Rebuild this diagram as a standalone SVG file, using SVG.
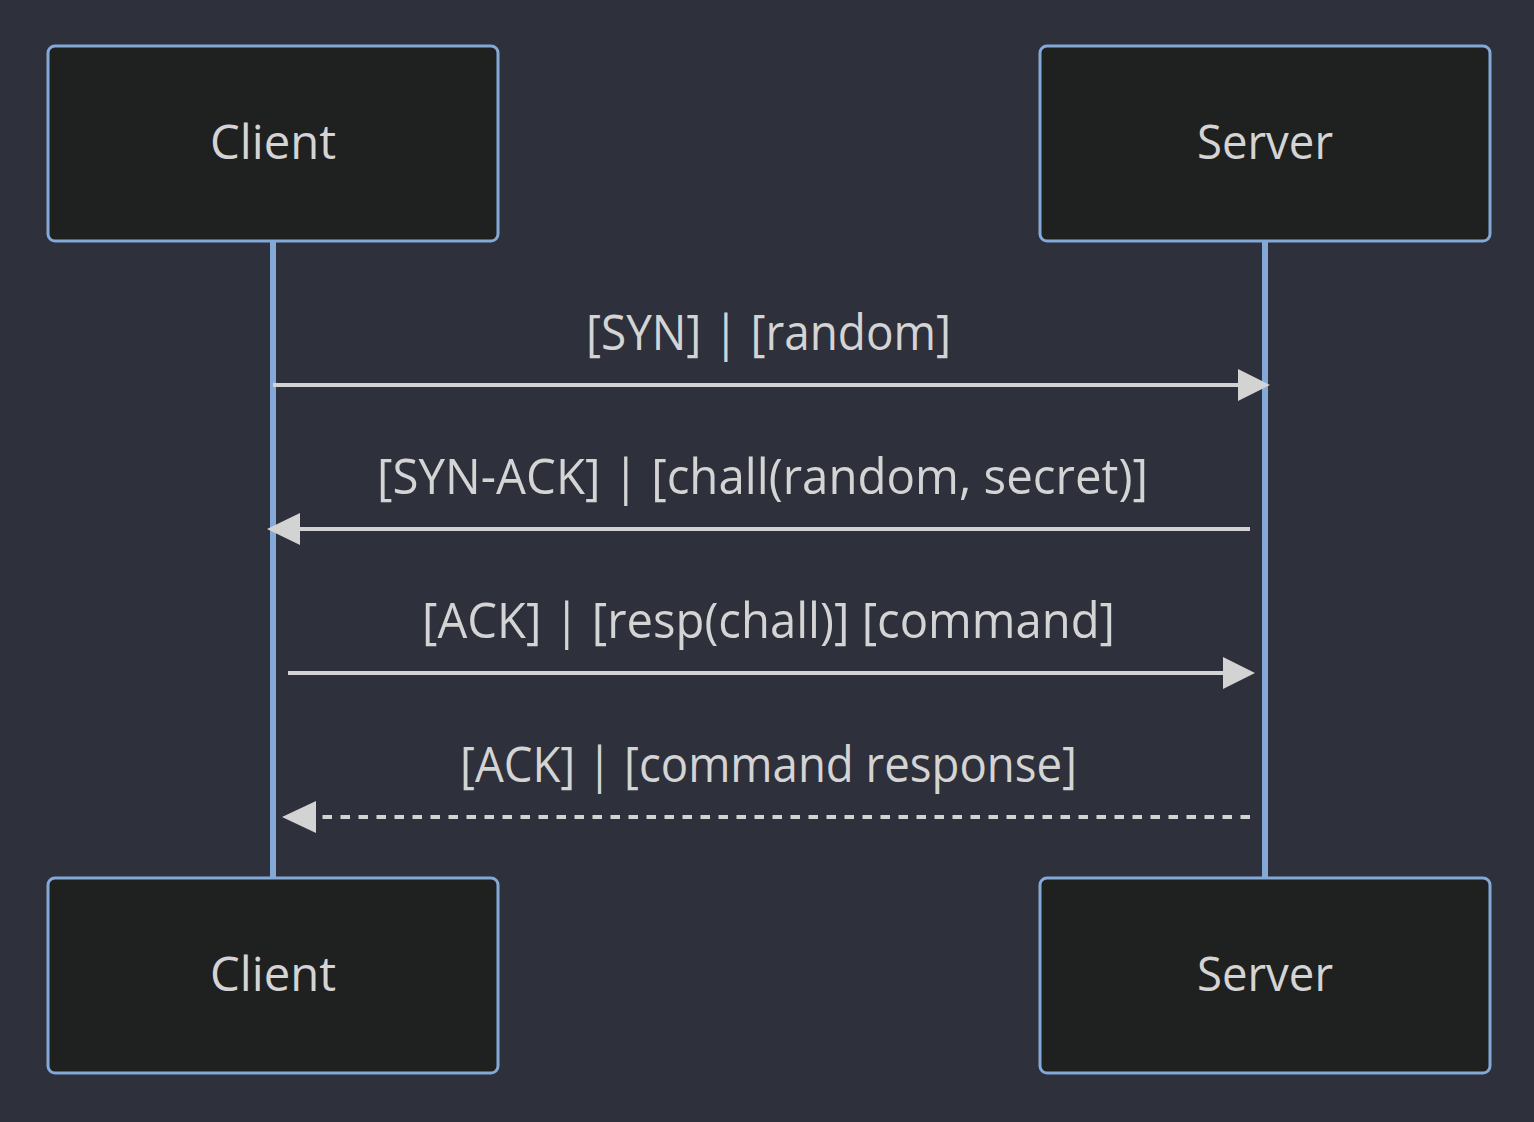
<svg xmlns="http://www.w3.org/2000/svg" width="1534" height="1122" viewBox="0 0 1534 1122">
  <defs>
    <style>
      .actor rect { fill: #1f2020; stroke: #84a9d8; stroke-width: 3; }
      .actor text { fill: #d4d4d4; font-family: "Open Sans", "DejaVu Sans", sans-serif; font-size: 48px; text-anchor: middle; }
      .lifeline { stroke: #84a9d8; stroke-width: 6; }
      .msg { stroke: #d3d3d3; stroke-width: 4; fill: none; }
      .msg.dashed { stroke-dasharray: 9.5 8.5; }
      .head { fill: #d3d3d3; }
      .label { fill: #d4d4d4; font-family: "Open Sans", "DejaVu Sans", sans-serif; font-size: 50px; text-anchor: middle; }
    </style>
  </defs>

  <rect width="1534" height="1122" fill="#2e303b"/>

  <!-- lifelines -->
  <g id="lifelines">
    <line class="lifeline" x1="273" y1="241" x2="273" y2="878"/>
    <line class="lifeline" x1="1265" y1="241" x2="1265" y2="878"/>
  </g>

  <!-- participants (top) -->
  <g id="client-top" class="actor">
    <rect x="48" y="46" width="450" height="195" rx="7"/>
    <text x="273" y="159" textLength="126" lengthAdjust="spacingAndGlyphs">Client</text>
  </g>
  <g id="server-top" class="actor">
    <rect x="1040" y="46" width="450" height="195" rx="7"/>
    <text x="1265" y="159" textLength="136" lengthAdjust="spacingAndGlyphs">Server</text>
  </g>

  <!-- participants (bottom) -->
  <g id="client-bottom" class="actor">
    <rect x="48" y="878" width="450" height="195" rx="7"/>
    <text x="273" y="991" textLength="126" lengthAdjust="spacingAndGlyphs">Client</text>
  </g>
  <g id="server-bottom" class="actor">
    <rect x="1040" y="878" width="450" height="195" rx="7"/>
    <text x="1265" y="991" textLength="136" lengthAdjust="spacingAndGlyphs">Server</text>
  </g>

  <!-- messages -->
  <g id="connectors">
    <line class="msg" x1="273" y1="385" x2="1240" y2="385"/>
    <polygon class="head" points="1270,385 1238,369 1238,401"/>

    <line class="msg" x1="1250" y1="529" x2="298" y2="529"/>
    <polygon class="head" points="267,529 300,513 300,545"/>

    <line class="msg" x1="288" y1="673" x2="1225" y2="673"/>
    <polygon class="head" points="1255,673 1223,657 1223,689"/>

    <line class="msg dashed" x1="1250" y1="817" x2="316" y2="817"/>
    <polygon class="head" points="282,817 316,801 316,833"/>
  </g>

  <g id="labels">
    <text class="label" x="768.5" y="350" textLength="365" lengthAdjust="spacingAndGlyphs">[SYN] | [random]</text>
    <text class="label" x="762.5" y="494" textLength="771" lengthAdjust="spacingAndGlyphs">[SYN-ACK] | [chall(random, secret)]</text>
    <text class="label" x="768.5" y="638" textLength="693" lengthAdjust="spacingAndGlyphs">[ACK] | [resp(chall)] [command]</text>
    <text class="label" x="768.5" y="782" textLength="617" lengthAdjust="spacingAndGlyphs">[ACK] | [command response]</text>
  </g>
</svg>
